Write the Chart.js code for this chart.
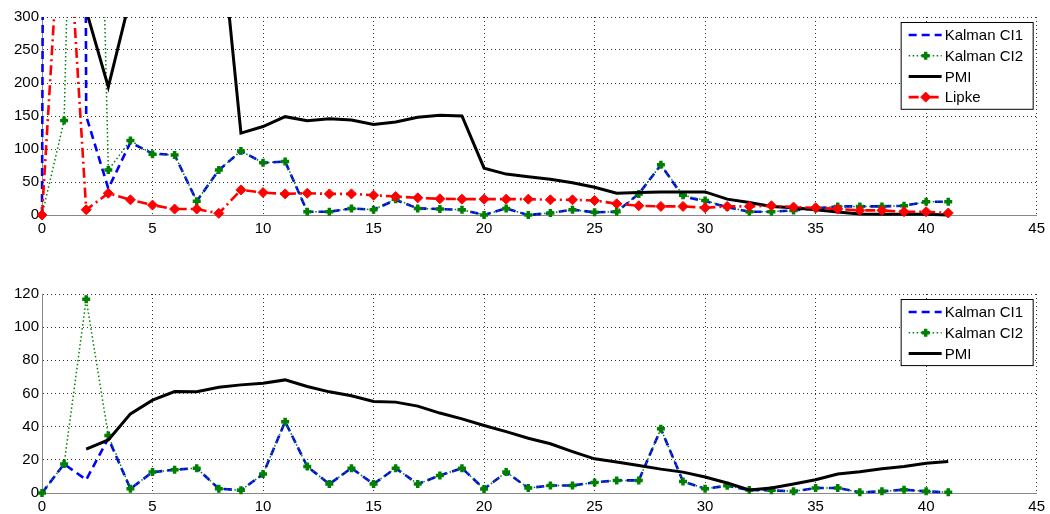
<!DOCTYPE html>
<html>
<head>
<meta charset="utf-8">
<script src="https://cdn.jsdelivr.net/npm/chart.js@4"></script>
<style>
	body { margin: 0; background: #fff; width: 1050px; height: 514px; overflow: hidden; position: relative; }
	canvas { position: absolute; left: 0; }
	#chart1 { top: 0; }
	#chart2 { top: 277px; }
</style>
</head>
<body>
<canvas id="chart1" width="1050" height="240"></canvas>
<canvas id="chart2" width="1050" height="237"></canvas>
<script>
// iteration index on the x axis
const steps = [0, 1, 2, 3, 4, 5, 6, 7, 8, 9, 10, 11, 12, 13, 14, 15, 16, 17, 18, 19, 20,
	21, 22, 23, 24, 25, 26, 27, 28, 29, 30, 31, 32, 33, 34, 35, 36, 37, 38, 39, 40, 41];

// upper plot (values above 300 run off the axes)
const ci1Top = [0, 10000, 150, 40, 110, 93, 91, 21, 68, 97, 79, 81, 5, 5, 10, 8, 23, 10, 9, 8, 0,
	10, 0, 3, 8, 4, 5, 32, 76, 28, 21, 12, 5, 5, 7, 10, 13, 13, 13, 14, 20, 20];
const ci2Top = [0, 143, 1500, 68, 113, 92, 91, 21, 68, 97, 79, 81, 5, 5, 10, 8, 24, 10, 9, 8, 0,
	10, 0, 3, 8, 4, 5, 32, 76, 30, 22, 12, 5, 5, 7, 10, 13, 13, 13, 14, 20, 20];
const pmiTop = [null, null, 310, 194, 330, 400, 430, 450, 460, 124, 134, 149, 143, 146, 144, 137, 141, 148, 151, 150, 71,
	62, 58, 54, 49, 42, 33, 34, 35, 35, 35, 24, 19, 13, 11, 8, 4.5, 1.5, 1, 1, 1, 0];
const lipkeTop = [0, 550, 8, 33, 23, 15, 9, 9, 2.5, 38, 34, 32, 33, 32, 32, 30, 28, 26, 24.5, 24, 24,
	24, 24, 23, 23, 22, 17, 14, 13, 13, 11, 13, 13, 14, 12, 11, 9, 7, 7, 5, 5, 3];

// lower plot
const ci1Bot = [0, 17.5, 8, 33, 2.6, 12.6, 14, 15, 2.6, 1.6, 11.4, 43, 16, 5.4, 15, 5.4, 15, 5.4, 10.6, 15, 2.4,
	12.6, 3, 4.5, 4.5, 6.4, 7.6, 7.6, 38.7, 7, 2.6, 4.4, 1.8, 1.6, 1, 3, 3, 0.4, 1, 2, 1, 0.4];
const ci2Bot = [0, 17.5, 116.8, 34.7, 2.6, 12.6, 14, 15, 2.6, 1.6, 11.4, 43, 16, 5.4, 15, 5.4, 15, 5.4, 10.6, 15, 2.4,
	12.6, 3, 4.5, 4.5, 6.4, 7.6, 7.6, 38.7, 7, 2.6, 4.4, 1.8, 1.6, 1, 3, 3, 0.4, 1, 2, 1, 0.4];
const pmiBot = [null, null, 26.5, 32, 47.7, 56, 61.2, 61, 63.8, 65.2, 66.2, 68.2, 64.2, 61, 58.6, 55.2, 54.8, 52.4, 48.2, 44.7, 40.7,
	37, 33, 29.7, 25, 20.6, 18.7, 16.6, 14.4, 12.6, 9.6, 6, 1.8, 3, 5.4, 8, 11.4, 12.8, 14.6, 16, 18, 19];

const xTicks = [0, 5, 10, 15, 20, 25, 30, 35, 40, 45];

function pts(arr) {
	return steps.map((s, i) => ({ x: s, y: arr[i] }));
}

const FONT = "'Liberation Sans', Arial, sans-serif";

// line looks, MATLAB-ish
const styles = {
	ci1: { borderColor: "#0000ff", borderWidth: 2.6, borderDash: [8, 5], pointRadius: 0 },
	ci2: { borderColor: "#008000", borderWidth: 1.5, borderDash: [1.5, 2.5], pointStyle: "cross", pointRadius: 4, pointBorderWidth: 3.5, pointBorderColor: "#008000", pointBackgroundColor: "#008000" },
	pmi: { borderColor: "#000000", borderWidth: 3, borderDash: [], pointRadius: 0 },
	lipke: { borderColor: "#ff0000", borderWidth: 2.6, borderDash: [10, 4, 2, 4], pointStyle: "rectRot", pointRadius: 5, pointBorderWidth: 1, pointBorderColor: "#ff0000", pointBackgroundColor: "#ff0000" },
};

function ds(label, arr, st, order) {
	return Object.assign({
		label: label,
		data: pts(arr),
		fill: false,
		tension: 0,
		spanGaps: false,
		order: order,
		clip: { left: 6, right: 6, top: 0, bottom: 6 },
	}, st);
}

// legend box inside the axes, top right
const boxLegend = {
	id: "boxLegend",
	afterDraw(chart) {
		const ctx = chart.ctx;
		const a = chart.chartArea;
		const sets = chart.data.datasets;
		const rowH = 20.7;
		const w = 132;
		const h = sets.length * rowH + 4;
		const left = a.right - w - 4;
		const top = a.top + 5;
		ctx.save();
		ctx.fillStyle = "#fff";
		ctx.fillRect(left, top, w, h);
		ctx.strokeStyle = "#000";
		ctx.lineWidth = 1;
		ctx.setLineDash([]);
		ctx.strokeRect(left + 0.5, top + 0.5, w, h);
		sets.forEach((d, i) => {
			const y = top + 13 + i * rowH;
			ctx.beginPath();
			ctx.strokeStyle = d.borderColor;
			ctx.lineWidth = d.borderWidth;
			ctx.setLineDash(d.borderDash || []);
			ctx.moveTo(left + 8, y);
			ctx.lineTo(left + 41, y);
			ctx.stroke();
			ctx.setLineDash([]);
			if (d.pointRadius > 0) {
				ctx.fillStyle = d.pointBackgroundColor;
				ctx.strokeStyle = d.pointBorderColor;
				ctx.lineWidth = d.pointBorderWidth;
				Chart.helpers.drawPoint(ctx, { pointStyle: d.pointStyle, radius: d.pointRadius, borderWidth: d.pointBorderWidth, rotation: 0 }, left + 25, y);
			}
			ctx.fillStyle = "#000";
			ctx.font = "15px " + FONT;
			ctx.textBaseline = "middle";
			ctx.textAlign = "left";
			ctx.fillText(d.label, left + 44, y + 1);
		});
		ctx.restore();
	},
};

function makeChart(el, datasets, yMax, yStep, xAxisH) {
	return new Chart(el, {
		type: "line",
		data: { datasets: datasets },
		plugins: [boxLegend],
		options: {
			responsive: false,
			animation: false,
			layout: { padding: { top: 17, right: 13, left: 0, bottom: 0 } },
			plugins: { legend: { display: false }, tooltip: { enabled: false } },
			scales: {
				x: {
					type: "linear",
					min: 0,
					max: 45,
					afterBuildTicks: (s) => { s.ticks = xTicks.map((v) => ({ value: v })); },
					afterFit: (s) => { s.height = xAxisH; },
					ticks: { color: "#000", font: { size: 15, family: FONT }, padding: 5, maxRotation: 0 },
					grid: { color: "#333", lineWidth: 1, drawTicks: false },
					border: { color: "#888", width: 1, dash: [1, 3] },
				},
				y: {
					min: 0,
					max: yMax,
					afterFit: (s) => { s.width = 42; },
					ticks: { stepSize: yStep, color: "#000", font: { size: 15, family: FONT }, padding: 3 },
					grid: { color: "#333", lineWidth: 1, drawTicks: false },
					border: { color: "#888", width: 1, dash: [1, 3] },
				},
			},
		},
	});
}

let top1 = makeChart(document.getElementById("chart1"), [
	ds("Kalman CI1", ci1Top, styles.ci1, 3),
	ds("Kalman CI2", ci2Top, styles.ci2, 2),
	ds("PMI", pmiTop, styles.pmi, 1),
	ds("Lipke", lipkeTop, styles.lipke, 0),
], 300, 50, 25);

let bot1 = makeChart(document.getElementById("chart2"), [
	ds("Kalman CI1", ci1Bot, styles.ci1, 2),
	ds("Kalman CI2", ci2Bot, styles.ci2, 1),
	ds("PMI", pmiBot, styles.pmi, 0),
], 120, 20, 21);
</script>
</body>
</html>
